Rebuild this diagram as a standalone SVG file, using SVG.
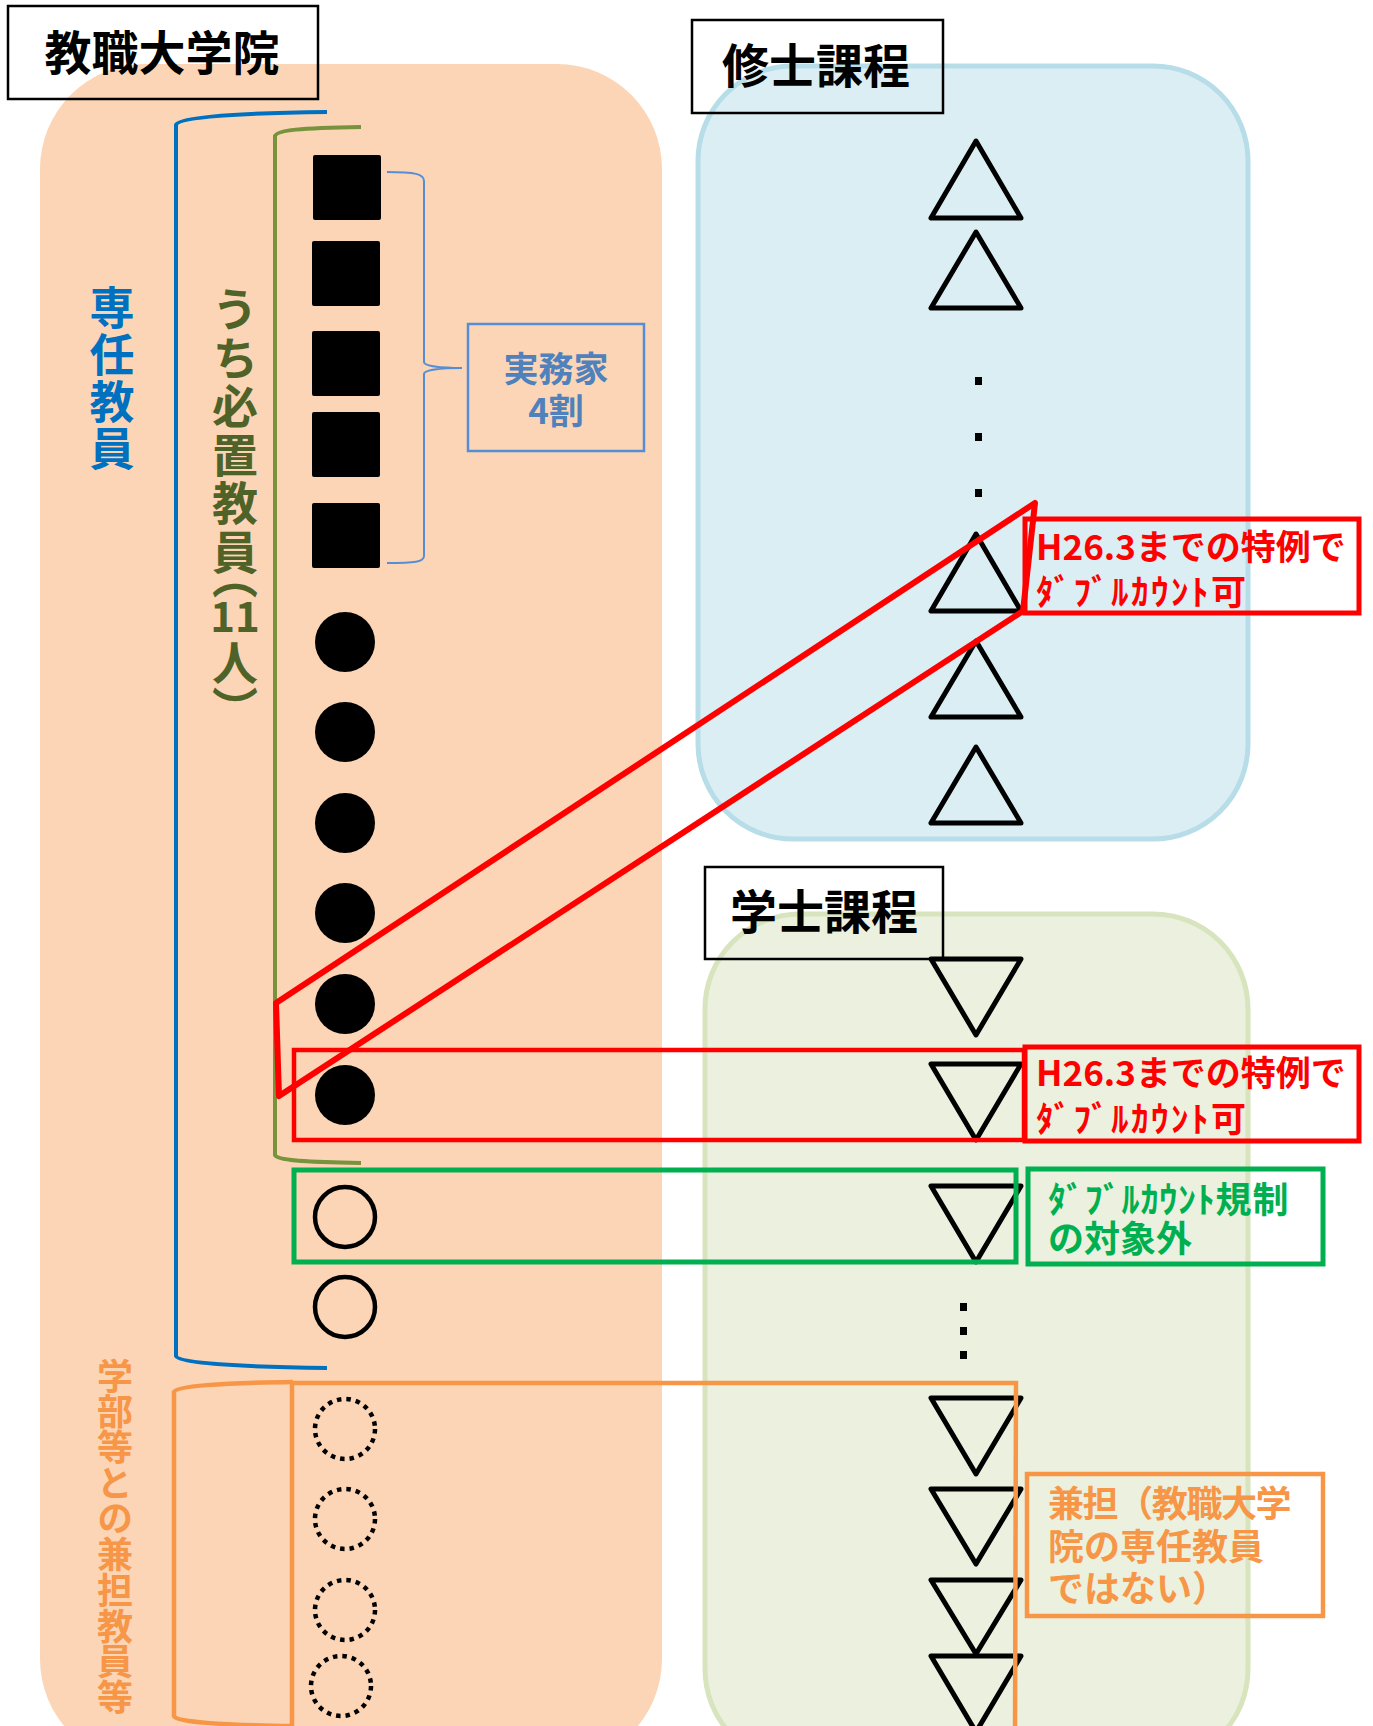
<svg xmlns="http://www.w3.org/2000/svg" width="1373" height="1726" viewBox="0 0 1373 1726">
<defs>
<style>
text{font-family:"Noto Sans CJK JP","Noto Sans",sans-serif;font-weight:bold}
.ttl{font-size:47px;fill:#000;text-anchor:middle}
.lbl{fill:none;stroke:#000;stroke-width:2.5}
.sq{fill:#000}
.dot{fill:#000}
.ring{fill:none;stroke:#000;stroke-width:4.5}
.dash{fill:none;stroke:#000;stroke-width:4.5;stroke-dasharray:4.5 5}
.tri{fill:none;stroke:#000;stroke-width:5;stroke-linejoin:round}
.vert{writing-mode:vertical-rl}
.red{fill:none;stroke:#FF0000}
.redt{fill:#FF0000;font-size:35px}
.grn{fill:none;stroke:#00B050;stroke-width:5}
.grnt{fill:#00B050;font-size:36px}
.org{fill:none;stroke:#F79646;stroke-width:4.5}
.orgt{fill:#F79646;font-size:36px}
</style>
</defs>
<rect width="1373" height="1726" fill="#FFFFFF"/>

<g id="bg-kyoshoku"><rect x="40" y="64" width="622" height="1700" rx="105" fill="#FBD5B5"/></g>
<g id="bg-shushi"><rect x="698" y="66" width="550" height="773" rx="95" fill="#DBEEF4" stroke="#B7DEE8" stroke-width="5"/></g>
<g id="bg-gakushi"><rect x="705" y="914" width="543" height="850" rx="95" fill="#EBF1DE" stroke="#D7E4BD" stroke-width="5"/></g>

<g id="title-kyoshoku"><rect class="lbl" x="8" y="6" width="310" height="93"/><text class="ttl" x="162" y="70">教職大学院</text></g>
<g id="title-shushi"><rect class="lbl" x="692" y="20" width="251" height="93"/><text class="ttl" x="816" y="83">修士課程</text></g>
<g id="title-gakushi"><rect class="lbl" x="705" y="867" width="238" height="92"/><text class="ttl" x="824" y="929">学士課程</text></g>

<g id="connectors">
<path d="M327 112 C240 113 178 117 176 125 L176 1356 C178 1363 240 1367 327 1368" fill="none" stroke="#0070C0" stroke-width="4"/>
<path d="M361 127 C300 128 277 130 275 136 L275 1155 C277 1160 300 1162 361 1163" fill="none" stroke="#77933C" stroke-width="4"/>
<path d="M387 172 C415 172 424 174 424 181 L424 362 C424 366 440 368 462 368 C440 368 424 370 424 374 L424 556 C424 562 415 563 387 563" fill="none" stroke="#558ED5" stroke-width="2"/>
<path d="M293 1382 C220 1383 176 1386 174 1392 L174 1716 C176 1722 220 1725 293 1726" fill="none" stroke="#F79646" stroke-width="4.5"/>
</g>

<g id="label-senin">
<text class="vert" x="112" y="285" font-size="45" letter-spacing="2" fill="#0070C0">専任教員</text>
</g>

<g id="label-hitchi" fill="#4F6228" font-size="46">
<text class="vert" x="235" y="286" letter-spacing="2.5">うち必置教員<tspan dy="-24">（</tspan></text>
<text x="235" y="632" font-size="42" text-anchor="middle" font-family="Liberation Sans, sans-serif">11</text>
<text class="vert" x="235" y="640">人）</text>
</g>

<g id="label-kentan-v">
<text class="vert" x="115" y="1358" font-size="36" letter-spacing="-0.3" fill="#F79646">学部等との兼担教員等</text>
</g>

<g id="practitioners">
<rect class="sq" x="313" y="155" width="68" height="65" rx="2"/>
<rect class="sq" x="312" y="241" width="68" height="65" rx="2"/>
<rect class="sq" x="312" y="331" width="68" height="65" rx="2"/>
<rect class="sq" x="312" y="412" width="68" height="65" rx="2"/>
<rect class="sq" x="312" y="503" width="68" height="65" rx="2"/>
</g>
<g id="label-jitsumuka">
<rect x="468" y="324" width="176" height="127" fill="none" stroke="#558ED5" stroke-width="2.5"/>
<text font-size="35" fill="#4F81BD" text-anchor="middle"><tspan x="556" y="382">実務家</tspan><tspan x="556" y="424">4割</tspan></text>
</g>

<g id="required-others">
<circle class="dot" cx="345" cy="642" r="30"/>
<circle class="dot" cx="345" cy="732" r="30"/>
<circle class="dot" cx="345" cy="823" r="30"/>
<circle class="dot" cx="345" cy="913" r="30"/>
<circle class="dot" cx="345" cy="1004" r="30"/>
<circle class="dot" cx="345" cy="1095" r="30"/>
</g>
<g id="full-time-others">
<circle class="ring" cx="345" cy="1217" r="30"/>
<circle class="ring" cx="345" cy="1307" r="30"/>
</g>
<g id="concurrent">
<circle class="dash" cx="345" cy="1429" r="30"/>
<circle class="dash" cx="345" cy="1519" r="30"/>
<circle class="dash" cx="345" cy="1610" r="30"/>
<circle class="dash" cx="341" cy="1686" r="30"/>
</g>

<g id="master-faculty">
<path class="tri" d="M976 141 L931 218 L1021 218 Z"/>
<path class="tri" d="M976 232 L931 308 L1021 308 Z"/>
<rect class="sq" x="975" y="377" width="7" height="8"/>
<rect class="sq" x="975" y="433" width="7" height="8"/>
<rect class="sq" x="975" y="489" width="7" height="8"/>
<path class="tri" d="M976 534 L931 611 L1021 611 Z"/>
<path class="tri" d="M976 641 L931 717 L1021 717 Z"/>
<path class="tri" d="M976 747 L931 823 L1021 823 Z"/>
</g>

<g id="bachelor-faculty">
<path class="tri" d="M931 959 L1021 959 L976 1035 Z"/>
<path class="tri" d="M931 1064 L1021 1064 L976 1140 Z"/>
<path class="tri" d="M931 1186 L1021 1186 L976 1262 Z"/>
<rect class="sq" x="960" y="1303" width="7" height="8"/>
<rect class="sq" x="960" y="1327" width="7" height="8"/>
<rect class="sq" x="960" y="1351" width="7" height="8"/>
<path class="tri" d="M931 1398 L1021 1398 L976 1474 Z"/>
<path class="tri" d="M931 1489 L1021 1489 L976 1564 Z"/>
<path class="tri" d="M931 1580 L1021 1580 L976 1654 Z"/>
<path class="tri" d="M931 1656 L1021 1656 L976 1732 Z"/>
</g>

<g id="double-count-master">
<path class="red" d="M276 1003 L1035 503 L1023 611 L279 1096 Z" stroke-width="6" stroke-linejoin="round"/>
<rect class="red" x="1025" y="519" width="334" height="94" stroke-width="5"/>
<text class="redt"><tspan x="1036" y="560">H26.3までの特例で</tspan><tspan x="1036" y="605" letter-spacing="2.5">ﾀﾞﾌﾞﾙｶｳﾝﾄ可</tspan></text>
</g>

<g id="double-count-bachelor">
<rect class="red" x="294" y="1050" width="730" height="90" stroke-width="4.5"/>
<rect class="red" x="1025" y="1047" width="334" height="94" stroke-width="5"/>
<text class="redt"><tspan x="1036" y="1086">H26.3までの特例で</tspan><tspan x="1036" y="1132" letter-spacing="2.5">ﾀﾞﾌﾞﾙｶｳﾝﾄ可</tspan></text>
</g>

<g id="not-regulated">
<rect class="grn" x="294" y="1170" width="722" height="92"/>
<rect class="grn" x="1028" y="1169" width="295" height="95"/>
<text class="grnt"><tspan x="1048" y="1213" letter-spacing="0.8">ﾀﾞﾌﾞﾙｶｳﾝﾄ規制</tspan><tspan x="1048" y="1252">の対象外</tspan></text>
</g>

<g id="concurrent-box">
<path class="org" d="M292 1740 L292 1383 L1016 1383 L1015 1740"/>
<rect class="org" x="1027" y="1474" width="296" height="142"/>
<text class="orgt"><tspan x="1048" y="1517" letter-spacing="-1.4">兼担（教職大学</tspan><tspan x="1048" y="1560">院の専任教員</tspan><tspan x="1048" y="1602">ではない）</tspan></text>
</g>
</svg>
